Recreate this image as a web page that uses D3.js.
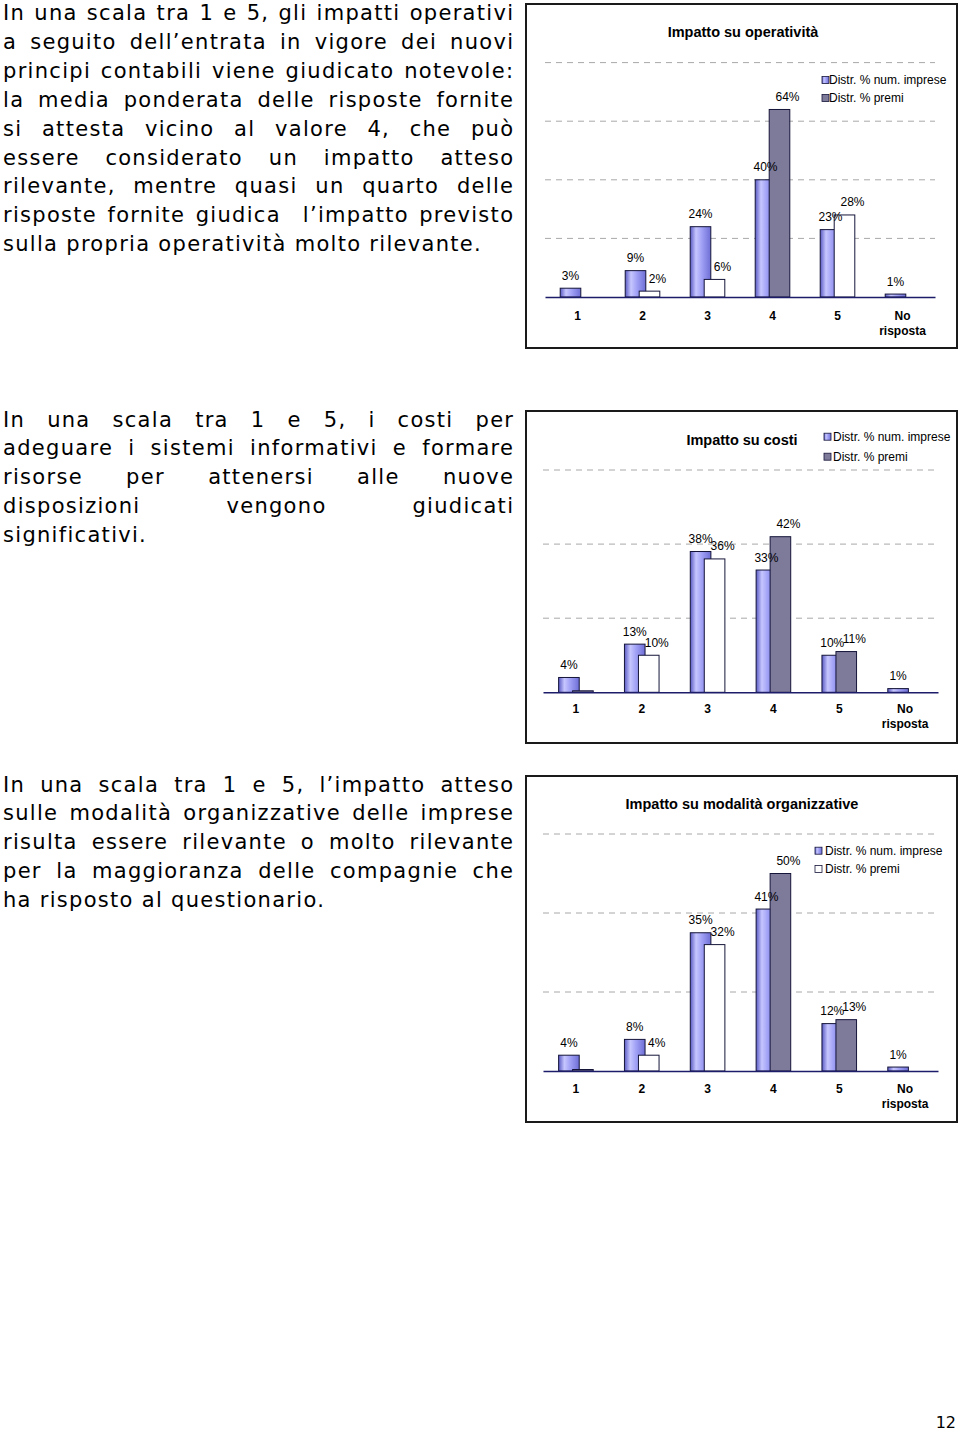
<!DOCTYPE html>
<html><head><meta charset="utf-8">
<script src="https://cdn.jsdelivr.net/npm/d3@7"></script>
<style>body{margin:0;background:#fff}</style>
</head><body>
<svg id="page" width="960" height="1432"></svg>
<script>
// ---------- DATA ----------
const categories = ["1", "2", "3", "4", "5", "No risposta"];
const seriesNames = ["Distr. % num. imprese", "Distr. % premi"];

const operativitaImprese = [3, 9, 24, 40, 23, 1];
const operativitaPremi   = [null, 2, 6, 64, 28, null];
const costiImprese       = [4, 13, 38, 33, 10, 1];
const costiPremi         = [0, 10, 36, 42, 11, null];
const modalitaImprese    = [4, 8, 35, 41, 12, 1];
const modalitaPremi      = [0, 4, 32, 50, 13, null];

const chartTitles = ["Impatto su operatività", "Impatto su costi", "Impatto su modalità organizzative"];

// style of the "premi" bars per category (the original mixes white and grey bars)
const operativitaPremiStyle = ["white", "white", "white", "grey", "white", "white"];
const costiPremiStyle       = ["grey", "white", "white", "grey", "grey", "grey"];
const modalitaPremiStyle    = ["grey", "white", "white", "grey", "grey", "grey"];

const paragraph1 = [
  "In una scala tra 1 e 5, gli impatti operativi",
  "a seguito dell’entrata in vigore dei nuovi",
  "principi contabili viene giudicato notevole:",
  "la media ponderata delle risposte fornite",
  "si attesta vicino al valore 4, che può",
  "essere considerato un impatto atteso",
  "rilevante, mentre quasi un quarto delle",
  "risposte fornite giudica  l’impatto previsto",
  "sulla propria operatività molto rilevante."
];
const paragraph2 = [
  "In una scala tra 1 e 5, i costi per",
  "adeguare i sistemi informativi e formare",
  "risorse per attenersi alle nuove",
  "disposizioni vengono giudicati",
  "significativi."
];
const paragraph3 = [
  "In una scala tra 1 e 5, l’impatto atteso",
  "sulle modalità organizzative delle imprese",
  "risulta essere rilevante o molto rilevante",
  "per la maggioranza delle compagnie che",
  "ha risposto al questionario."
];
const pageNumber = "12";

// ---------- DRAWING ----------
const svg = d3.select("#page");
const GREY = "#7e7a9a";
const fillFor = s => s === "grey" ? GREY : "#ffffff";

const defs = svg.append("defs");
const grad = defs.append("linearGradient").attr("id", "blueGrad")
  .attr("x1", "0").attr("x2", "1").attr("y1", "0").attr("y2", "0");
[[0, "#5a5ac4"], [0.28, "#c6c6ff"], [0.55, "#a2a2f6"], [1, "#6e6ed6"]].forEach(([o, c]) =>
  grad.append("stop").attr("offset", o).attr("stop-color", c));

function paragraph(lines, x0, x1, y0, lh) {
  const g = svg.append("g").style("font-family", "'DejaVu Sans', Verdana, sans-serif")
    .style("font-size", "21px").style("letter-spacing", "1.3px").attr("fill", "#000");
  lines.forEach((line, i) => {
    const y = y0 + i * lh;
    if (i === lines.length - 1) {
      g.append("text").attr("x", x0).attr("y", y).text(line);
      return;
    }
    const words = line.split(" ");
    const nodes = words.map(w => g.append("text").attr("y", y).text(w));
    const widths = nodes.map(n => n.text() === "" ? 0 : n.node().getComputedTextLength() - 1.3);
    const gap = (x1 - x0 - d3.sum(widths)) / (words.length - 1);
    let x = x0;
    nodes.forEach((n, j) => { n.attr("x", x); x += widths[j] + gap; });
  });
}

paragraph(paragraph1, 3, 513, 20, 28.9);
paragraph(paragraph2, 3, 513, 426.5, 28.9);
paragraph(paragraph3, 3, 513, 791.5, 28.9);

svg.append("text").attr("x", 956).attr("y", 1428).attr("text-anchor", "end")
  .style("font-family", "'DejaVu Sans', Verdana, sans-serif").style("font-size", "16px")
  .text(pageNumber);

const charts = [
  { title: chartTitles[0], imprese: operativitaImprese, premi: operativitaPremi, premiStyle: operativitaPremiStyle,
    legendPremiStyle: "grey", box: [526, 4, 957, 348], xr: [545, 935], base: 297, top: 62.6, yMax: 80,
    titleX: 743, titleY: 37, legend: { sx: 822, tx: 829, rows: [80, 98] }, tickPad: 14.5 },
  { title: chartTitles[1], imprese: costiImprese, premi: costiPremi, premiStyle: costiPremiStyle,
    legendPremiStyle: "grey", box: [526, 411, 957, 743], xr: [543, 938], base: 692.3, top: 470, yMax: 60,
    titleX: 742, titleY: 444.5, legend: { sx: 824, tx: 833, rows: [436.7, 456.7] }, tickPad: 12.5 },
  { title: chartTitles[2], imprese: modalitaImprese, premi: modalitaPremi, premiStyle: modalitaPremiStyle,
    legendPremiStyle: "white", box: [526, 776, 957, 1122], xr: [543, 938], base: 1071, top: 834, yMax: 60,
    titleX: 742, titleY: 809, legend: { sx: 815, tx: 825, rows: [850.7, 869] }, tickPad: 13.8 }
];

charts.forEach(c => {
  const g = svg.append("g").style("font-family", "Arial, 'Liberation Sans', sans-serif");
  const [bx0, by0, bx1, by1] = c.box;
  g.append("rect").attr("x", bx0).attr("y", by0).attr("width", bx1 - bx0).attr("height", by1 - by0)
    .attr("fill", "#fff").attr("stroke", "#1a1a1a").attr("stroke-width", 2);

  const x = d3.scaleBand().domain(categories).range(c.xr);
  const y = d3.scaleLinear().domain([0, c.yMax]).range([c.base, c.top]);

  // gridlines
  g.selectAll("line.grid").data(y.ticks(c.yMax / 20).filter(t => t > 0)).join("line")
    .attr("class", "grid")
    .attr("x1", c.xr[0]).attr("x2", c.xr[1])
    .attr("y1", d => y(d)).attr("y2", d => y(d))
    .attr("stroke", "#a8a8a8").attr("stroke-width", 1).attr("stroke-dasharray", "6,5");

  // title
  g.append("text").attr("x", c.titleX).attr("y", c.titleY).attr("text-anchor", "middle")
    .style("font-size", "14.5px").style("font-weight", "bold").text(c.title);

  const rows = categories.map((cat, i) => ({ cat, a: c.imprese[i], b: c.premi[i], s: c.premiStyle[i] }));
  const cx = d => x(d.cat) + x.bandwidth() / 2;
  const BW = 20.6;

  // imprese bars
  g.selectAll("rect.imp").data(rows.filter(d => d.a != null)).join("rect")
    .attr("class", "imp")
    .attr("x", d => cx(d) - 17.3).attr("width", BW)
    .attr("y", d => y(d.a)).attr("height", d => Math.max(1.5, c.base - y(d.a)))
    .attr("fill", "url(#blueGrad)").attr("stroke", "#15153a").attr("stroke-width", 1);

  // premi bars
  g.selectAll("rect.pre").data(rows.filter(d => d.b != null)).join("rect")
    .attr("class", "pre")
    .attr("x", d => cx(d) - 3.3).attr("width", BW)
    .attr("y", d => Math.min(y(d.b), c.base - 1.5)).attr("height", d => Math.max(1.5, c.base - y(d.b)))
    .attr("fill", d => fillFor(d.s)).attr("stroke", "#15153a").attr("stroke-width", 1);

  // axis
  const ax = g.append("g").attr("transform", `translate(0,${c.base})`)
    .call(d3.axisBottom(x).tickSize(0).tickSizeOuter(0).tickPadding(c.tickPad));
  ax.select(".domain").attr("stroke", "#1c1c6a").attr("stroke-width", 1.4);
  ax.selectAll("text").style("font-family", "Arial, 'Liberation Sans', sans-serif")
    .style("font-size", "12px").style("font-weight", "bold").attr("fill", "#000")
    .each(function (d) {
      const parts = d.split(" ");
      if (parts.length > 1) {
        const t = d3.select(this).text(null);
        parts.forEach((p, k) => t.append("tspan").attr("x", 0).attr("dy", k === 0 ? "0.71em" : "1.25em").text(p));
        t.attr("dy", null);
      }
    });

  // value labels
  g.selectAll("text.la").data(rows.filter(d => d.a != null)).join("text")
    .attr("class", "la").attr("text-anchor", "middle")
    .attr("x", d => cx(d) - 17.3 + BW / 2).attr("y", d => y(d.a) - 8.5)
    .style("font-size", "12px").text(d => d.a + "%");
  g.selectAll("text.lb").data(rows.filter(d => d.b != null && d.b > 0)).join("text")
    .attr("class", "lb").attr("text-anchor", "middle")
    .attr("x", d => cx(d) - 3.3 + BW / 2 + 8).attr("y", d => y(d.b) - 8.5)
    .style("font-size", "12px").text(d => d.b + "%");

  // legend
  const L = c.legend;
  const lg = [
    { name: seriesNames[0], fill: "url(#blueGrad)" },
    { name: seriesNames[1], fill: fillFor(c.legendPremiStyle) }
  ];
  lg.forEach((it, k) => {
    g.append("rect").attr("x", L.sx).attr("y", L.rows[k] - 3.5).attr("width", 7).attr("height", 7)
      .attr("fill", it.fill).attr("stroke", "#15153a").attr("stroke-width", 0.8);
    g.append("text").attr("x", L.tx).attr("y", L.rows[k] + 4).style("font-size", "12px").text(it.name);
  });
});
</script>
</body></html>
